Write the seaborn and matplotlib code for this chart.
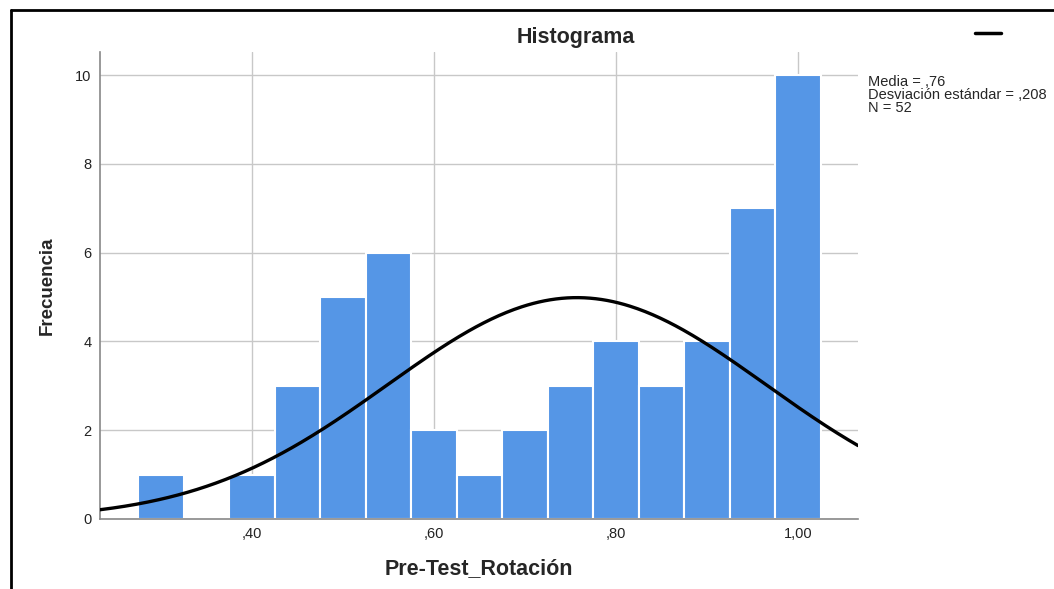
import numpy as np
import pandas as pd
import matplotlib
matplotlib.use("Agg")
import matplotlib.pyplot as plt
import seaborn as sns
from matplotlib.lines import Line2D

# Data
bin_centers = [0.30, 0.35, 0.40, 0.45, 0.50, 0.55, 0.60, 0.65, 0.70, 0.75, 0.80, 0.85, 0.90, 0.95, 1.00]
counts = [1, 0, 1, 3, 5, 6, 2, 1, 2, 3, 4, 3, 4, 7, 10]
mean_val = 0.757   # shown rounded as ",76"
sd_val = 0.208
n_val = 52
x_ticks = [0.40, 0.60, 0.80, 1.00]
x_tick_labels = [",40", ",60", ",80", "1,00"]
y_ticks = [0, 2, 4, 6, 8, 10]

sns.set_style("white")
plt.rcParams['font.family'] = ['Liberation Sans', 'DejaVu Sans']

fig = plt.figure(figsize=(10.54, 5.89), dpi=100)
ax = fig.add_axes([100/1054, 1-519/589, (858-100)/1054, (519-52)/589])

df = pd.DataFrame({"x": bin_centers, "w": counts})
binw = 0.05
sns.histplot(data=df, x="x", weights="w", binwidth=binw,
             binrange=(bin_centers[0]-binw/2, bin_centers[-1]+binw/2),
             color="#5596e6", alpha=1, edgecolor="white", linewidth=1.5, ax=ax, zorder=2)

xlim = (0.233, 1.066)
xs = np.linspace(xlim[0], xlim[1], 400)
ys = n_val * binw / (sd_val*np.sqrt(2*np.pi)) * np.exp(-0.5*((xs-mean_val)/sd_val)**2)
sns.lineplot(x=xs, y=ys, color="black", linewidth=2.4, ax=ax, zorder=3)

ax.set_xlim(*xlim)
ax.set_ylim(0, 10.52)
ax.set_xticks(x_ticks)
ax.set_xticklabels(x_tick_labels)
ax.set_yticks(y_ticks)
ax.tick_params(axis="both", length=0, labelsize=10.5, colors="#222222", pad=6)
ax.grid(True, color="#c8c8c8", linewidth=1.0, zorder=0)
ax.set_axisbelow(True)
for s in ["top", "right"]:
    ax.spines[s].set_visible(False)
for s in ["left", "bottom"]:
    ax.spines[s].set_color("#888888")
    ax.spines[s].set_linewidth(1.2)

ax.set_xlabel("Pre-Test_Rotación", fontsize=15.5, fontweight="bold", labelpad=12)
ax.set_ylabel("Frecuencia", fontsize=13.5, fontweight="bold", labelpad=14)
fig.text(576/1054, 1-37/589, "Histograma", ha="center", va="center",
         fontsize=15.5, fontweight="bold")

fig.text(868/1054, 1-75/589,
         "Media = ,76\nDesviación estándar = ,208\nN = 52",
         ha="left", va="top", fontsize=10.5, linespacing=0.9)
fig.add_artist(Line2D([975/1054, 1001/1054], [1-33/589, 1-33/589],
                      color="black", linewidth=2.5, transform=fig.transFigure))

# Partial frame (left and top edges)
fig.add_artist(Line2D([10.5/1054, 10.5/1054], [0, 1-9.5/589], color="black",
                      linewidth=2, transform=fig.transFigure))
fig.add_artist(Line2D([10.5/1054, 1], [1-9.5/589, 1-9.5/589], color="black",
                      linewidth=2, transform=fig.transFigure))

fig.savefig("out.png", dpi=100)
